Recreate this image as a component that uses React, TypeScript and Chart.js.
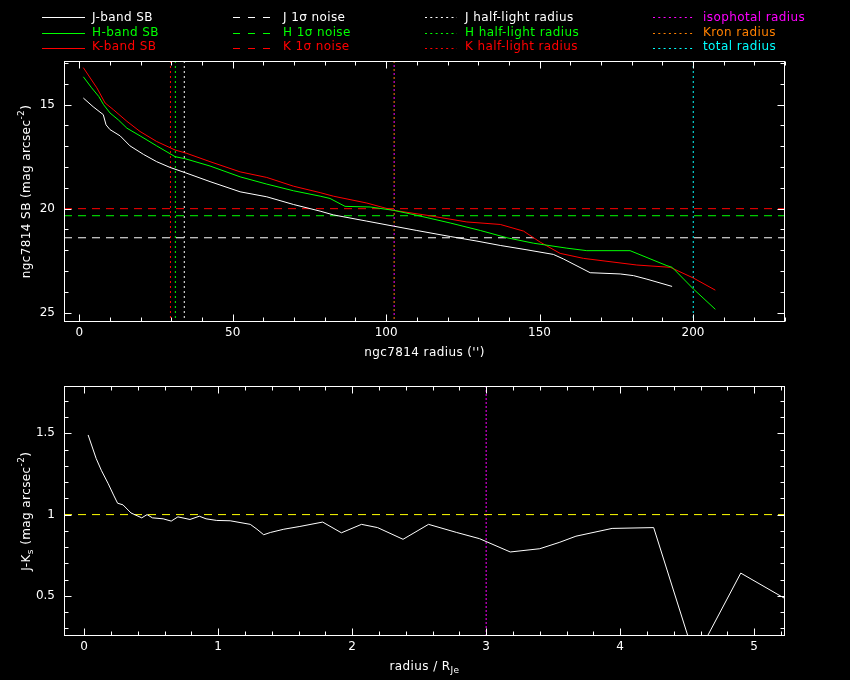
import React, { useEffect, useRef } from 'react';
import { Chart, registerables } from 'chart.js';

Chart.register(...registerables);

const FONT = 'DejaVu Sans';
const WHITE = '#ffffff';
const GREEN = '#00ff00';
const RED = '#ff0000';
const MAGENTA = '#ff00ff';
const ORANGE = '#ff8000';
const CYAN = '#00ffff';
const YELLOW = '#ffff00';

// ---------- top panel: surface brightness profiles ----------
const jRadius = [1.3, 4.5, 7.8, 8.7, 10, 13.3, 16.5, 20.9, 25.2, 29.6, 34.5, 42.6, 52.4, 61.1, 69.8, 78.5, 82.8, 93.7, 102.4, 110, 120.9, 129.6, 137.2, 145.9, 154.5, 157.8, 166.5, 176.3, 180.6, 185, 193.2];
const jSB = [14.68, 15.1, 15.48, 15.97, 16.2, 16.5, 16.98, 17.39, 17.74, 18.02, 18.27, 18.7, 19.19, 19.43, 19.8, 20.12, 20.3, 20.6, 20.84, 21.05, 21.34, 21.56, 21.77, 21.98, 22.2, 22.42, 23.08, 23.14, 23.22, 23.39, 23.74];

const hRadius = [1.3, 4.0, 6.3, 7.9, 10, 12.7, 15.5, 19.8, 25.2, 31.2, 34.5, 42.6, 52.4, 61.1, 69.8, 78.5, 81.7, 86.6, 94.8, 102.4, 110, 120.9, 130.7, 139.4, 148, 158.9, 165.4, 179.5, 191.5, 193.2, 200.2, 207.3];
const hSB = [13.66, 14.19, 14.6, 15.0, 15.4, 15.73, 16.13, 16.5, 16.98, 17.5, 17.6, 17.95, 18.47, 18.82, 19.14, 19.4, 19.51, 19.89, 19.92, 20.08, 20.32, 20.69, 21.05, 21.4, 21.66, 21.9, 22.02, 22.02, 22.74, 22.82, 23.87, 24.84];

const kRadius = [1.3, 5.7, 8.4, 11.1, 15.5, 19.8, 25.2, 31.2, 35, 42.6, 52.4, 61.1, 69.8, 78.5, 82.8, 93.7, 102.4, 113.3, 126.3, 137.2, 144.8, 150.2, 156.7, 164.3, 181.7, 192.6, 200.2, 207.3];
const kSB = [13.22, 14.19, 14.92, 15.24, 15.8, 16.29, 16.77, 17.18, 17.34, 17.74, 18.23, 18.5, 18.92, 19.23, 19.4, 19.73, 20.08, 20.32, 20.64, 20.76, 21.08, 21.61, 22.15, 22.39, 22.71, 22.82, 23.34, 23.92];

const noiseJHK = [21.4, 20.34, 20.0];
const halfLightJHK = [34.2, 31.3, 29.7];
const isophotalRadius = 102.6;
const kronRadius = 102.6;
const totalRadius = 200.1;

const topXRange = [-5, 230];
const topYRange = [12.9, 25.45];
const topXTickLabels = [0, 50, 100, 150, 200];
const topYTickLabels = [15, 20, 25];

// ---------- bottom panel: J-Ks colour profile ----------
const colorRadius = [0.03, 0.09, 0.13, 0.18, 0.22, 0.25, 0.29, 0.35, 0.43, 0.47, 0.51, 0.59, 0.65, 0.7, 0.79, 0.86, 0.91, 0.99, 1.09, 1.24, 1.29, 1.34, 1.39, 1.49, 1.61, 1.78, 1.92, 2.07, 2.19, 2.38, 2.57, 2.78, 2.95, 3.18, 3.4, 3.55, 3.67, 3.94, 4.25, 4.56, 4.9, 5.3];
const colorJK = [1.49, 1.345, 1.27, 1.19, 1.12, 1.07, 1.06, 1.01, 0.98, 1.0, 0.98, 0.974, 0.96, 0.986, 0.97, 0.99, 0.974, 0.964, 0.962, 0.94, 0.91, 0.876, 0.89, 0.91, 0.927, 0.954, 0.888, 0.94, 0.92, 0.848, 0.94, 0.89, 0.852, 0.77, 0.79, 0.83, 0.867, 0.915, 0.92, 0.11, 0.64, 0.45];
const colorReference = 1.0;
const isophotalRadiusRel = 3.0;

const botXRange = [-0.15, 5.23];
const botYRange = [0.253, 1.79];
const botXTickLabels = [0, 1, 2, 3, 4, 5];
const botYTickLabels = [0.5, 1, 1.5];

// ---------- legend ----------
const legendLabels = [
  ['J-band SB', 'H-band SB', 'K-band SB'],
  ['J 1\u03c3 noise', 'H 1\u03c3 noise', 'K 1\u03c3 noise'],
  ['J half-light radius', 'H half-light radius', 'K half-light radius'],
  ['isophotal radius', 'Kron radius', 'total radius'],
];
const legendColors = [
  [WHITE, GREEN, RED],
  [WHITE, GREEN, RED],
  [WHITE, GREEN, RED],
  [MAGENTA, ORANGE, CYAN],
];

type Seg = { t: string; dy?: number; small?: boolean };
const topXTitle: Seg[] = [{ t: "ngc7814 radius ('')" }];
const topYTitle: Seg[] = [{ t: 'ngc7814 SB (mag arcsec' }, { t: '-2', dy: -5, small: true }, { t: ')' }];
const botXTitle: Seg[] = [{ t: 'radius / R' }, { t: 'Je', dy: 4, small: true }];
const botYTitle: Seg[] = [{ t: 'J-K' }, { t: 's', dy: 4, small: true }, { t: ' (mag arcsec' }, { t: '-2', dy: -5, small: true }, { t: ')' }];

const pts = (xs: number[], ys: number[]) => xs.map((x, i) => ({ x, y: ys[i] }));
const hLine = (v: number, xr: number[]) => [{ x: xr[0], y: v }, { x: xr[1], y: v }];
const vLine = (v: number, yr: number[]) => [{ x: v, y: yr[0] }, { x: v, y: yr[1] }];

function ticksBetween(min: number, max: number, step: number) {
  const out: number[] = [];
  const s = Math.ceil(min / step - 1e-9);
  const e = Math.floor(max / step + 1e-9);
  for (let k = s; k <= e; k++) out.push(+(k * step).toFixed(10));
  return out;
}
const isMult = (v: number, step: number) => Math.abs(v / step - Math.round(v / step)) < 1e-6;

function framePlugin(xMinor: number, xMajor: number, yMinor: number, yMajor: number) {
  return {
    id: 'pgFrame',
    afterDraw(chart: any) {
      const { ctx, chartArea: a, scales } = chart;
      const L = Math.round(a.left) + 0.5;
      const R = Math.round(a.right) - 0.5;
      const T = Math.round(a.top) + 0.5;
      const B = Math.round(a.bottom) - 0.5;
      ctx.save();
      ctx.strokeStyle = WHITE;
      ctx.lineWidth = 1;
      ctx.setLineDash([]);
      ctx.strokeRect(L, T, R - L, B - T);
      ctx.beginPath();
      for (const v of ticksBetween(scales.x.min, scales.x.max, xMinor)) {
        const len = isMult(v, xMajor) ? 7 : 4;
        const px = Math.round(scales.x.getPixelForValue(v)) + 0.5;
        ctx.moveTo(px, B); ctx.lineTo(px, B - len);
        ctx.moveTo(px, T); ctx.lineTo(px, T + len);
      }
      for (const v of ticksBetween(scales.y.min, scales.y.max, yMinor)) {
        const len = isMult(v, yMajor) ? 7 : 4;
        const py = Math.round(scales.y.getPixelForValue(v)) + 0.5;
        ctx.moveTo(L, py); ctx.lineTo(L + len, py);
        ctx.moveTo(R, py); ctx.lineTo(R - len, py);
      }
      ctx.stroke();
      ctx.restore();
    },
  };
}

function drawRich(ctx: CanvasRenderingContext2D, segs: Seg[], cx: number, cy: number, rotate: boolean) {
  ctx.save();
  ctx.translate(cx, cy);
  if (rotate) ctx.rotate(-Math.PI / 2);
  (ctx as any).letterSpacing = '0.4px';
  const big = `12px "${FONT}"`;
  const small = `9px "${FONT}"`;
  let total = 0;
  const widths = segs.map((s) => {
    ctx.font = s.small ? small : big;
    const w = ctx.measureText(s.t).width;
    total += w;
    return w;
  });
  let x = -total / 2;
  ctx.textBaseline = 'middle';
  ctx.textAlign = 'left';
  ctx.fillStyle = WHITE;
  segs.forEach((s, i) => {
    ctx.font = s.small ? small : big;
    ctx.fillText(s.t, x, s.dy || 0);
    x += widths[i];
  });
  ctx.restore();
}

function titlePlugin(xTitle: Seg[], yTitle: Seg[]) {
  return {
    id: 'pgTitles',
    afterDraw(chart: any) {
      const { ctx, chartArea: a } = chart;
      drawRich(ctx, xTitle, (a.left + a.right) / 2, a.bottom + 31, false);
      drawRich(ctx, yTitle, 27, (a.top + a.bottom) / 2, true);
    },
  };
}

const legendPlugin = {
  id: 'pgLegend',
  afterDraw(chart: any) {
    const ctx: CanvasRenderingContext2D = chart.ctx;
    const cols = [
      { x0: 42, x1: 85, tx: 92, dash: [] as number[] },
      { x0: 233, x1: 277, tx: 283, dash: [7, 8] },
      { x0: 425, x1: 457, tx: 465, dash: [2, 3.3] },
      { x0: 653, x1: 693, tx: 703, dash: [2, 3.3] },
    ];
    const baselines = [21, 35.5, 50];
    const lineYs = [17.5, 33.5, 48.5];
    ctx.save();
    (ctx as any).letterSpacing = '0.4px';
    ctx.font = `12px "${FONT}"`;
    ctx.textBaseline = 'alphabetic';
    ctx.textAlign = 'left';
    cols.forEach((c, ci) => {
      baselines.forEach((by, ri) => {
        const col = legendColors[ci][ri];
        ctx.strokeStyle = col;
        ctx.lineWidth = 1;
        ctx.setLineDash(c.dash);
        ctx.beginPath();
        ctx.moveTo(c.x0, lineYs[ri]);
        ctx.lineTo(c.x1, lineYs[ri]);
        ctx.stroke();
        ctx.fillStyle = col;
        ctx.fillText(legendLabels[ci][ri], c.tx, by);
      });
    });
    ctx.restore();
  },
};

function baseOptions(xr: number[], yr: number[], xt: number[], yt: number[], reverse: boolean, pad: any) {
  const tickFont = { family: FONT, size: 12 };
  return {
    animation: false,
    responsive: false,
    maintainAspectRatio: false,
    events: [],
    layout: { padding: pad },
    plugins: { legend: { display: false }, tooltip: { enabled: false }, title: { display: false } },
    elements: { point: { radius: 0 }, line: { borderWidth: 1, tension: 0 } },
    scales: {
      x: {
        type: 'linear',
        min: xr[0],
        max: xr[1],
        grid: { display: false, drawTicks: false },
        border: { display: false },
        ticks: { color: WHITE, font: tickFont, padding: 4, maxRotation: 0, callback: (v: any) => String(v) },
        afterBuildTicks: (s: any) => { s.ticks = xt.map((v) => ({ value: v })); },
        afterFit: (s: any) => { s.height = 40; },
      },
      y: {
        type: 'linear',
        reverse,
        min: yr[0],
        max: yr[1],
        grid: { display: false, drawTicks: false },
        border: { display: false },
        ticks: { color: WHITE, font: tickFont, padding: 9, callback: (v: any) => String(v) },
        afterBuildTicks: (s: any) => { s.ticks = yt.map((v) => ({ value: v })); },
        afterFit: (s: any) => { s.width = 64; },
      },
    },
  };
}

const lineDs = (label: string, data: any[], color: string, dash: number[] = [], extra: any = {}) => ({
  label,
  data,
  borderColor: color,
  backgroundColor: color,
  borderWidth: 1,
  borderDash: dash,
  pointRadius: 0,
  fill: false,
  ...extra,
});

export default function App() {
  const topRef = useRef<HTMLCanvasElement>(null);
  const botRef = useRef<HTMLCanvasElement>(null);

  useEffect(() => {
    document.body.style.background = '#000';
    const bands = ['J', 'H', 'K'];
    const colors = [WHITE, GREEN, RED];
    const top = new Chart(topRef.current as HTMLCanvasElement, {
      type: 'line',
      data: {
        datasets: [
          lineDs('J-band SB', pts(jRadius, jSB), WHITE),
          lineDs('H-band SB', pts(hRadius, hSB), GREEN),
          lineDs('K-band SB', pts(kRadius, kSB), RED),
          ...noiseJHK.map((v, i) => lineDs(`${bands[i]} 1\u03c3 noise`, hLine(v, topXRange), colors[i], [8, 6])),
          ...halfLightJHK.map((v, i) => lineDs(`${bands[i]} half-light radius`, vLine(v, topYRange), colors[i], [2, 3])),
          lineDs('isophotal radius', vLine(isophotalRadius, topYRange), MAGENTA, [2, 6], { borderDashOffset: 4 }),
          lineDs('Kron radius', vLine(kronRadius, topYRange), ORANGE, [2, 6]),
          lineDs('total radius', vLine(totalRadius, topYRange), CYAN, [2, 3]),
        ],
      },
      options: baseOptions(topXRange, topYRange, topXTickLabels, topYTickLabels, true, { top: 61, left: 0, right: 65, bottom: 8 }) as any,
      plugins: [framePlugin(10, 50, 1, 5), titlePlugin(topXTitle, topYTitle), legendPlugin],
    });

    const bot = new Chart(botRef.current as HTMLCanvasElement, {
      type: 'line',
      data: {
        datasets: [
          lineDs('J-Ks', pts(colorRadius, colorJK), WHITE),
          lineDs('reference', hLine(colorReference, botXRange), YELLOW, [8, 6]),
          lineDs('isophotal radius', vLine(isophotalRadiusRel, botYRange), MAGENTA, [2, 2]),
        ],
      },
      options: baseOptions(botXRange, botYRange, botXTickLabels, botYTickLabels, false, { top: 5, left: 0, right: 65, bottom: 4 }) as any,
      plugins: [framePlugin(0.2, 1, 0.1, 0.5), titlePlugin(botXTitle, botYTitle)],
    });

    return () => {
      top.destroy();
      bot.destroy();
    };
  }, []);

  return (
    <div style={{ position: 'absolute', left: 0, top: 0, width: 850, height: 680, background: '#000', overflow: 'hidden' }}>
      <canvas ref={topRef} width={850} height={370} style={{ position: 'absolute', left: 0, top: 0, width: 850, height: 370 }} />
      <canvas ref={botRef} width={850} height={310} style={{ position: 'absolute', left: 0, top: 370, width: 850, height: 310 }} />
    </div>
  );
}
